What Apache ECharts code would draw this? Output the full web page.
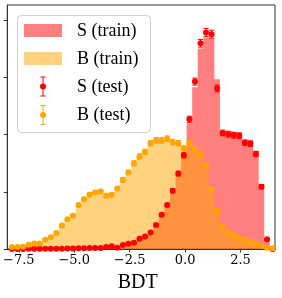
<!DOCTYPE html>
<html>
<head>
<meta charset="utf-8">
<script src="https://cdn.jsdelivr.net/npm/echarts@6/dist/echarts.min.js"></script>
<style>
html,body{margin:0;padding:0;background:#fff;}
#c{width:282px;height:298px;}
</style>
</head>
<body>
<div id="c"></div>
<script>
// ---- data ----
const binEdges = [-7.93,-7.68,-7.43,-7.18,-6.93,-6.68,-6.43,-6.18,-5.93,-5.68,-5.43,-5.18,-4.93,-4.68,-4.43,-4.18,-3.93,-3.68,-3.43,-3.18,-2.93,-2.68,-2.43,-2.18,-1.93,-1.68,-1.43,-1.18,-0.93,-0.68,-0.43,-0.18,0.07,0.32,0.57,0.82,1.07,1.32,1.57,1.82,2.07,2.32,2.57,2.82,3.07,3.32,3.57,3.82,4.07];

const sigTrain = [0,0,0,0.0005,0.0005,0.0005,0.0005,0.0005,0.0005,0.0005,0.001,0.001,0.0012,0.0015,0.0017,0.0017,0.0017,0.0034,0.0046,0.0025,0.0069,0.009,0.011,0.018,0.022,0.029,0.042,0.060,0.077,0.102,0.132,0.164,0.220,0.283,0.351,0.370,0.369,0.297,0.207,0.206,0.205,0.204,0.191,0.191,0.172,0.113,0.019,0];
const bkgTrain = [0.0034,0.0034,0.0040,0.0074,0.0098,0.0098,0.0160,0.0206,0.0280,0.0410,0.0520,0.0580,0.0770,0.0870,0.0950,0.0990,0.1005,0.0930,0.0950,0.1060,0.1210,0.1340,0.1500,0.1620,0.1700,0.1850,0.1900,0.1900,0.1930,0.1870,0.1850,0.1760,0.1850,0.1740,0.1650,0.1460,0.1040,0.0670,0.0390,0.0290,0.0240,0.0190,0.0160,0.0125,0.0086,0.0051,0.0023,0.0011];

const sigTest = [0,0,0,0.0005,0.0005,0.0005,0.0005,0.0005,0.0005,0.0005,0.001,0.001,0.0012,0.0015,0.0017,0.0017,0.0017,0.0034,0.0046,0.0023,0.0069,0.009,0.011,0.018,0.022,0.029,0.042,0.060,0.077,0.102,0.132,0.164,0.227,0.293,0.360,0.379,0.376,0.281,0.203,0.201,0.199,0.198,0.186,0.184,0.166,0.109,0.017,0];
const sigErr = [0,0,0,0.0003,0.0003,0.0003,0.0003,0.0003,0.0003,0.0003,0.0004,0.0004,0.0004,0.0004,0.0005,0.0005,0.0005,0.0007,0.0008,0.0005,0.0009,0.0011,0.0012,0.0015,0.0017,0.0019,0.0023,0.0027,0.0031,0.0036,0.0041,0.0045,0.0053,0.0061,0.0067,0.0069,0.0069,0.0059,0.0050,0.0050,0.0050,0.0050,0.0048,0.0048,0.0046,0.0037,0.0015,0];
const bkgTest = [0.0034,0.0034,0.0040,0.0074,0.0098,0.0098,0.0160,0.0206,0.0280,0.0410,0.0520,0.0580,0.0770,0.0870,0.0950,0.0990,0.1005,0.0930,0.0950,0.1060,0.1210,0.1340,0.1500,0.1620,0.1700,0.1850,0.1900,0.1900,0.1930,0.1870,0.1850,0.1760,0.1850,0.1740,0.1650,0.1460,0.1040,0.0670,0.0390,0.0290,0.0240,0.0190,0.0160,0.0125,0.0086,0.0051,0.0023,0.0011];
const bkgErr = [0.0007,0.0007,0.0007,0.0010,0.0011,0.0011,0.0014,0.0016,0.0019,0.0023,0.0026,0.0027,0.0031,0.0033,0.0035,0.0035,0.0036,0.0034,0.0035,0.0036,0.0039,0.0041,0.0043,0.0045,0.0046,0.0048,0.0049,0.0049,0.0049,0.0048,0.0048,0.0047,0.0048,0.0047,0.0045,0.0043,0.0036,0.0029,0.0022,0.0019,0.0017,0.0015,0.0014,0.0013,0.0010,0.0008,0.0005,0.0004];

const xTicks = [-7.5,-5.0,-2.5,0.0,2.5];
const yTicks = [0,0.1,0.2,0.3,0.4];
const labels = {sTrain:'S (train)', bTrain:'B (train)', sTest:'S (test)', bTest:'B (test)'};
const xName = 'BDT';

// ---- build ----
const centers = binEdges.slice(0,-1).map((e,i)=> (e+binEdges[i+1])/2);
function stepData(h){
  const d=[[binEdges[0],h[0]]];
  h.forEach((v,i)=>d.push([centers[i],v]));
  d.push([binEdges[binEdges.length-1],h[h.length-1]]);
  return d;
}
function errData(v,e){ return v.map((y,i)=>[centers[i],y,e[i]]); }
function ptData(v){ return v.map((y,i)=>[centers[i],y]); }

const RED='#ff0000', ORANGE='#ffa500';
function errRender(color){
  return function(params, api){
    const x=api.value(0), y=api.value(1), e=api.value(2);
    const top=api.coord([x,y+e]), bot=api.coord([x,y-e]);
    const cap=2.6;
    const st={stroke:color,lineWidth:1};
    return {type:'group',children:[
      {type:'line',shape:{x1:top[0],y1:top[1],x2:bot[0],y2:bot[1]},style:st},
      {type:'line',shape:{x1:top[0]-cap,y1:top[1],x2:top[0]+cap,y2:top[1]},style:st},
      {type:'line',shape:{x1:bot[0]-cap,y1:bot[1],x2:bot[0]+cap,y2:bot[1]},style:st}
    ]};
  };
}
const serif='"Liberation Serif", "DejaVu Serif", serif';
const tickFont='"DejaVu Serif", serif';

function legendErr(cx,cy,color){
  return [
    {type:'line',shape:{x1:cx,y1:cy-9.5,x2:cx,y2:cy+9.5},style:{stroke:color,lineWidth:1}},
    {type:'line',shape:{x1:cx-2.6,y1:cy-9.5,x2:cx+2.6,y2:cy-9.5},style:{stroke:color,lineWidth:1}},
    {type:'line',shape:{x1:cx-2.6,y1:cy+9.5,x2:cx+2.6,y2:cy+9.5},style:{stroke:color,lineWidth:1}},
    {type:'circle',shape:{cx:cx,cy:cy,r:3},style:{fill:color}}
  ];
}

const chart = echarts.init(document.getElementById('c'), null, {renderer:'canvas'});
chart.setOption({
  animation:false,
  backgroundColor:'#fff',
  grid:{left:7,top:5,width:268,height:249,show:true,borderColor:'#333',borderWidth:1,backgroundColor:'transparent'},
  xAxis:{type:'value',min:-8.02,max:4.055,
    name:xName,nameLocation:'middle',nameGap:24,
    nameTextStyle:{fontFamily:serif,fontSize:20,color:'#000',verticalAlign:'top',padding:[0,7,0,0]},
    axisLine:{show:true,onZero:false,lineStyle:{color:'#333',width:1}},
    axisTick:{show:true,length:3.5,lineStyle:{color:'#333'},customValues:xTicks},
    axisLabel:{show:true,margin:5,fontFamily:tickFont,fontSize:13,color:'#000',customValues:xTicks,
      formatter:v=>(v<0?'\u2212':'')+Math.abs(v).toFixed(1)},
    splitLine:{show:false}},
  yAxis:{type:'value',min:0,max:0.427,
    axisLine:{show:true,onZero:false,lineStyle:{color:'#333',width:1}},
    axisTick:{show:true,length:3.5,lineStyle:{color:'#333'},customValues:yTicks},
    axisLabel:{show:false},
    splitLine:{show:false}},
  series:[
    {type:'line',name:labels.sTrain,data:stepData(sigTrain),step:'middle',symbol:'none',silent:true,
      lineStyle:{width:0,opacity:0},areaStyle:{color:RED,opacity:0.5},z:1},
    {type:'line',name:labels.bTrain,data:stepData(bkgTrain),step:'middle',symbol:'none',silent:true,
      lineStyle:{width:0,opacity:0},areaStyle:{color:ORANGE,opacity:0.5},z:1},
    {type:'custom',name:labels.sTest+' err',data:errData(sigTest,sigErr),renderItem:errRender(RED),silent:true,z:2},
    {type:'scatter',name:labels.sTest,data:ptData(sigTest),symbol:'circle',symbolSize:6,itemStyle:{color:RED,opacity:1},silent:true,z:2},
    {type:'custom',name:labels.bTest+' err',data:errData(bkgTest,bkgErr),renderItem:errRender(ORANGE),silent:true,z:3},
    {type:'scatter',name:labels.bTest,data:ptData(bkgTest),symbol:'circle',symbolSize:6,itemStyle:{color:ORANGE,opacity:1},silent:true,z:3}
  ],
  graphic:[{type:'group',x:0,y:0,z:100,children:[
    {type:'rect',shape:{x:17.5,y:15.5,width:133,height:117,r:4},style:{fill:'rgba(255,255,255,0.8)',stroke:'#d0d0d0',lineWidth:1}},
    {type:'rect',shape:{x:24,y:24,width:38,height:13},style:{fill:'rgba(255,0,0,0.5)'}},
    {type:'text',style:{x:77,y:31,text:labels.sTrain,font:'18px '+serif,fill:'#000',verticalAlign:'middle'}},
    {type:'rect',shape:{x:24,y:52,width:38,height:13},style:{fill:'rgba(255,165,0,0.5)'}},
    {type:'text',style:{x:77,y:59,text:labels.bTrain,font:'18px '+serif,fill:'#000',verticalAlign:'middle'}},
    ...legendErr(43,86.5,RED),
    {type:'text',style:{x:77,y:87,text:labels.sTest,font:'18px '+serif,fill:'#000',verticalAlign:'middle'}},
    ...legendErr(43,115,ORANGE),
    {type:'text',style:{x:77,y:115,text:labels.bTest,font:'18px '+serif,fill:'#000',verticalAlign:'middle'}}
  ]}]
});
</script>
</body>
</html>
